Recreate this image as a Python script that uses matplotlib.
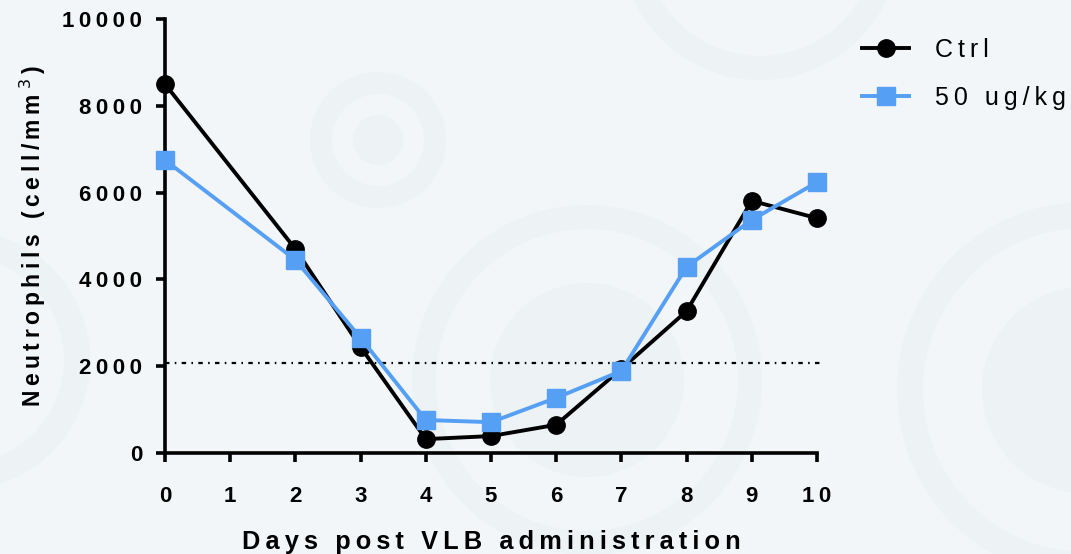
import matplotlib
matplotlib.use("Agg")
import matplotlib.pyplot as plt
from matplotlib.patches import Circle, Wedge

# Data
days = [0, 2, 3, 4, 5, 6, 7, 8, 9, 10]
ctrl = [8500, 4700, 2440, 320, 390, 650, 1940, 3270, 5810, 5410]
dose_50 = [6750, 4450, 2650, 760, 710, 1270, 1890, 4290, 5370, 6240]
threshold = 2070
x_ticks = list(range(0, 11))
y_ticks = [0, 2000, 4000, 6000, 8000, 10000]
series_labels = ["Ctrl", "50 ug/kg"]

BG = "#f2f6f8"
RING = "#edf2f5"
TS = "\u2009"  # thin space used for letter spacing


def spaced(s):
    return TS.join(s)


plt.rcParams["font.family"] = ["Liberation Sans", "DejaVu Sans"]

W, H = 1071, 554
fig = plt.figure(figsize=(W / 100, H / 100), dpi=100, facecolor=BG)

# faint watermark rings behind everything (pixel coordinates)
bg = fig.add_axes([0, 0, 1, 1], zorder=-5)
bg.set_xlim(0, W)
bg.set_ylim(H, 0)
bg.axis("off")
for (cx, cy, r) in [(378, 140, 25), (587, 380, 97), (1085, 390, 103)]:
    bg.add_patch(Circle((cx, cy), r, color=RING, lw=0))
for (cx, cy, r, w) in [(378, 140, 68, 22), (587, 380, 175, 24), (1085, 390, 188, 26),
                       (-40, 360, 130, 26), (760, -60, 140, 24)]:
    bg.add_patch(Wedge((cx, cy), r, 0, 360, width=w, color=RING, lw=0))

ax = fig.add_axes([165 / W, 1 - 453 / H, (817 - 165) / W, (453 - 19) / H])
ax.set_facecolor("none")

ax.plot(days, ctrl, color="black", lw=2.8, marker="o", ms=12.5, clip_on=False, zorder=4,
        label=spaced(series_labels[0]))
ax.plot(days, dose_50, color="#559ff5", lw=2.8, marker="s", ms=12.5, clip_on=False, zorder=5,
        label=spaced(series_labels[1]))
ax.axhline(threshold, xmin=0, xmax=1.01, color="black", lw=1.6,
           linestyle=(0, (2.0, 2.4, 0.7, 2.4)), clip_on=False, zorder=2)

ax.set_xlim(0, 10)
ax.set_ylim(0, 10000)
ax.set_xticks(x_ticks)
ax.set_yticks(y_ticks)
ax.set_xticklabels([spaced(str(v)) for v in x_ticks])
ax.set_yticklabels([spaced(str(v)) for v in y_ticks])

for s in ["top", "right"]:
    ax.spines[s].set_visible(False)
for s in ["left", "bottom"]:
    ax.spines[s].set_linewidth(2.6)
    ax.spines[s].set_capstyle("projecting")
ax.tick_params(axis="both", direction="out", length=6.5, width=2.6, labelsize=16)
ax.tick_params(axis="y", pad=10)
ax.tick_params(axis="x", pad=17)
for lbl in ax.get_xticklabels() + ax.get_yticklabels():
    lbl.set_fontweight("bold")

ax.set_xlabel(spaced("Days post VLB administration"), fontsize=18.3, fontweight="bold", labelpad=17)
ax.set_ylabel(spaced("Neutrophils (cell/mm") + TS + "$^{3}$" + TS + ")", fontsize=16.5,
              fontweight="bold", labelpad=10)

leg = fig.legend(loc="upper left", bbox_to_anchor=(862 / W, 1 - 38 / H), frameon=False,
                 fontsize=18, handlelength=1.88, handletextpad=1.04, labelspacing=0.95,
                 borderpad=0, borderaxespad=0)

fig.savefig("out.png", dpi=100, facecolor=BG)
